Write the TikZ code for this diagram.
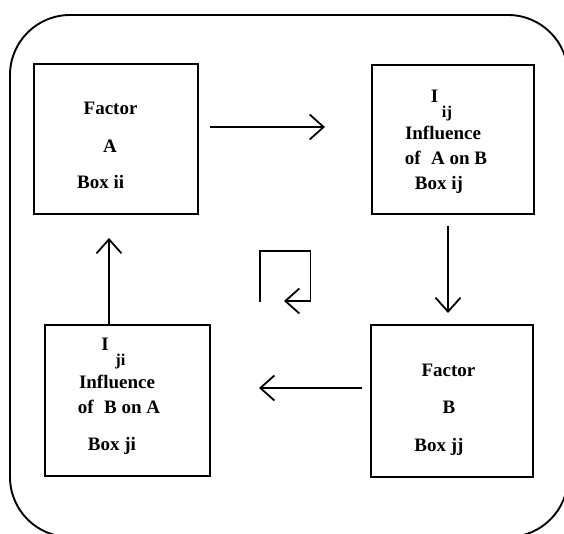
\documentclass[tikz,border=0pt]{standalone}
\usepackage{fontspec}
\setmainfont{Liberation Serif}
\usetikzlibrary{arrows.meta}

\tikzset{
  frame/.style={draw, line width=1.9pt, rounded corners=60pt},
  box/.style={draw, line width=2.3pt, rectangle, inner sep=0pt},
  lbl/.style={anchor=base, inner sep=0pt, font=\bfseries\fontsize{19}{21}\selectfont},
  sub/.style={anchor=base, inner sep=0pt, font=\bfseries\fontsize{16.5}{18}\selectfont},
  arr/.style={line width=1.8pt, -{Straight Barb[length=14pt,width=25pt]}},
}

\begin{document}
\begin{tikzpicture}[x=1pt,y=-1pt]
  \useasboundingbox (0,0) rectangle (564,534);
  \clip (0,0) rectangle (564,534);

  % outer rounded frame
  \draw[frame] (10,15) rectangle (568,537);

  % the four boxes
  \node[box, minimum width=164pt, minimum height=150pt] (boxii) at (116,139) {};
  \node[box, minimum width=162pt, minimum height=149pt] (boxij) at (453,139.5) {};
  \node[box, minimum width=165pt, minimum height=151pt] (boxji) at (127.5,400.5) {};
  \node[box, minimum width=162pt, minimum height=152pt] (boxjj) at (452,401) {};

  % Box ii
  \node[lbl] (fa)  at (110.6,114.5) {Factor};
  \node[lbl] (a)   at (110,152.5) {A};
  \node[lbl] (bii) at (100.7,189) {Box ii};

  % Box ij
  \node[lbl] (iij)  at (434.5,102.5) {I};
  \node[sub] (sij)  at (447,117.5) {ij};
  \node[lbl] (infa) at (443,139.5) {Influence};
  \node[lbl] (oab)  at (446,164.5) {of\hspace{0.3em} A on B};
  \node[lbl] (bij)  at (439,190) {Box ij};

  % Box ji
  \node[lbl] (iji)  at (105,350.5) {I};
  \node[sub] (sji)  at (120.5,365.5) {ji};
  \node[lbl] (infb) at (117,388) {Influence};
  \node[lbl] (oba)  at (119,413) {of\hspace{0.3em} B on A};
  \node[lbl] (bji)  at (112,450.5) {Box ji};

  % Box jj
  \node[lbl] (fb)  at (448.4,376) {Factor};
  \node[lbl] (b)   at (449,413.7) {B};
  \node[lbl] (bjj) at (439,451.5) {Box jj};

  % connector end points
  \coordinate (r0) at (210,127);
  \coordinate (r1) at (325,127);
  \coordinate (d0) at (448,226.5);
  \coordinate (d1) at (448,313);
  \coordinate (l0) at (362,388);
  \coordinate (l1) at (259,388);
  \coordinate (u0) at (boxji.north -| 109,0);
  \coordinate (u1) at (109,238);

  % cycle arrows
  \draw[arr] (r0) -- (r1);
  \draw[arr] (d0) -- (d1);
  \draw[arr] (l0) -- (l1);
  \draw[arr] (u0) -- (u1);

  % small circulation sign in the middle
  \coordinate (c0) at (260,301.5);
  \coordinate (c1) at (260,251);
  \coordinate (c2) at (310.5,251);
  \coordinate (c3) at (310.5,301);
  \coordinate (c4) at (284,301);
  \draw[arr, line join=miter] (c0) -- (c1) -- (c2) -- (c3) -- (c4);
\end{tikzpicture}
\end{document}
